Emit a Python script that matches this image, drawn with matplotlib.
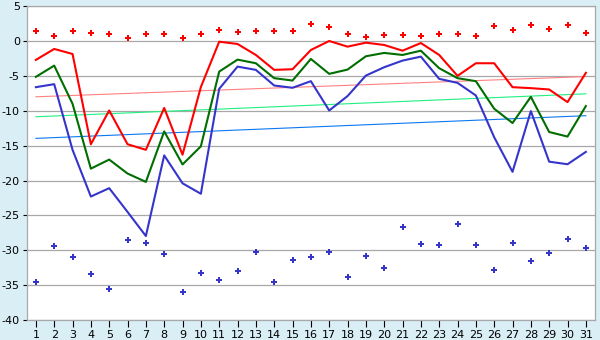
import matplotlib
matplotlib.use("Agg")
import matplotlib.pyplot as plt
import numpy as np

plt.rcParams['axes.unicode_minus'] = False
plt.rcParams['font.family'] = ['DejaVu Sans']

days = list(range(1, 32))

red_top = [1.43, 0.76, 1.43, 1.14, 1.0, 0.43, 1.0, 1.0, 0.43, 1.0,
           1.57, 1.29, 1.43, 1.43, 1.43, 2.43, 2.0, 1.0, 0.61, 0.86,
           0.86, 0.71, 1.0, 1.0, 0.71, 2.14, 1.57, 2.29, 1.71, 2.29, 1.14]

red_line = [-2.71, -1.14, -1.86, -14.8, -9.96, -14.8, -15.6, -9.6, -16.3, -6.6,
            -0.1, -0.43, -2.0, -4.14, -4.05, -1.29, 0.0, -0.81, -0.24, -0.57,
            -1.39, -0.29, -2.0, -5.0, -3.19, -3.19, -6.62, -6.76, -6.95, -8.76, -4.57]

green_line = [-5.14, -3.53, -9.0, -18.3, -17.0, -19.0, -20.2, -12.96, -17.7, -15.1,
              -4.39, -2.67, -3.19, -5.33, -5.67, -2.57, -4.71, -4.1, -2.19, -1.71,
              -2.0, -1.39, -3.9, -5.33, -5.76, -9.71, -11.76, -8.0, -13.05, -13.7, -9.33]

blue_line = [-6.62, -6.19, -15.6, -22.3, -21.1, -24.5, -27.96, -16.4, -20.4, -21.9,
             -6.86, -3.67, -4.14, -6.38, -6.71, -5.76, -9.96, -7.9, -4.96, -3.76,
             -2.81, -2.24, -5.43, -6.0, -7.81, -13.8, -18.76, -10.05, -17.3, -17.67, -15.9]

blue_bottom = [-34.57, -29.43, -31.0, -33.43, -35.57, -28.57, -29.0, -30.57, -36.0, -33.29,
               -34.29, -33.0, -30.29, -34.57, -31.43, -31.0, -30.29, -33.86, -30.86, -32.57,
               -26.71, -29.14, -29.29, -26.29, -29.29, -32.86, -29.0, -31.57, -30.43, -28.43, -29.71]

# trend line end values (day 1, day 31)
red_trend = [-8.0, -5.1]
green_trend = [-10.86, -7.57]
blue_trend = [-13.96, -10.71]

bg = '#daeef6'
fig = plt.figure(figsize=(6, 3.4), dpi=100, facecolor=bg)
ax = fig.add_axes([0.0445, 0.0588, 0.9917 - 0.0445, 0.982 - 0.0588])
ax.set_facecolor('white')

ax.set_xlim(0.5, 31.5)
ax.set_ylim(-40, 5)
ax.set_yticks(np.arange(-40, 6, 5))
ax.set_xticks(days)
ax.grid(axis='y', color='#a8a8a8', linewidth=0.9)
ax.set_axisbelow(True)
for s in ax.spines.values():
    s.set_color('#a8a8a8')
    s.set_linewidth(0.9)
ax.tick_params(axis='both', labelsize=8, colors='black', width=0.8)
ax.tick_params(axis='x', length=5, pad=2)
ax.tick_params(axis='y', length=3, pad=2)

tx = [days[0], days[-1]]
ax.plot(tx, red_trend, color='#ff8080', lw=0.8)
ax.plot(tx, green_trend, color='#20f080', lw=0.8)
ax.plot(tx, blue_trend, color='#0a78f0', lw=0.8)

ax.plot(days, red_line, color='#ff0000', lw=1.5)
ax.plot(days, green_line, color='#006e00', lw=1.5)
ax.plot(days, blue_line, color='#3535cc', lw=1.5)

ax.scatter(days, red_top, marker='P', s=24, color='#ff0000', linewidths=0)
ax.scatter(days, blue_bottom, marker='P', s=24, color='#3535cc', linewidths=0)

fig.savefig('out.png', dpi=100, facecolor=bg)
